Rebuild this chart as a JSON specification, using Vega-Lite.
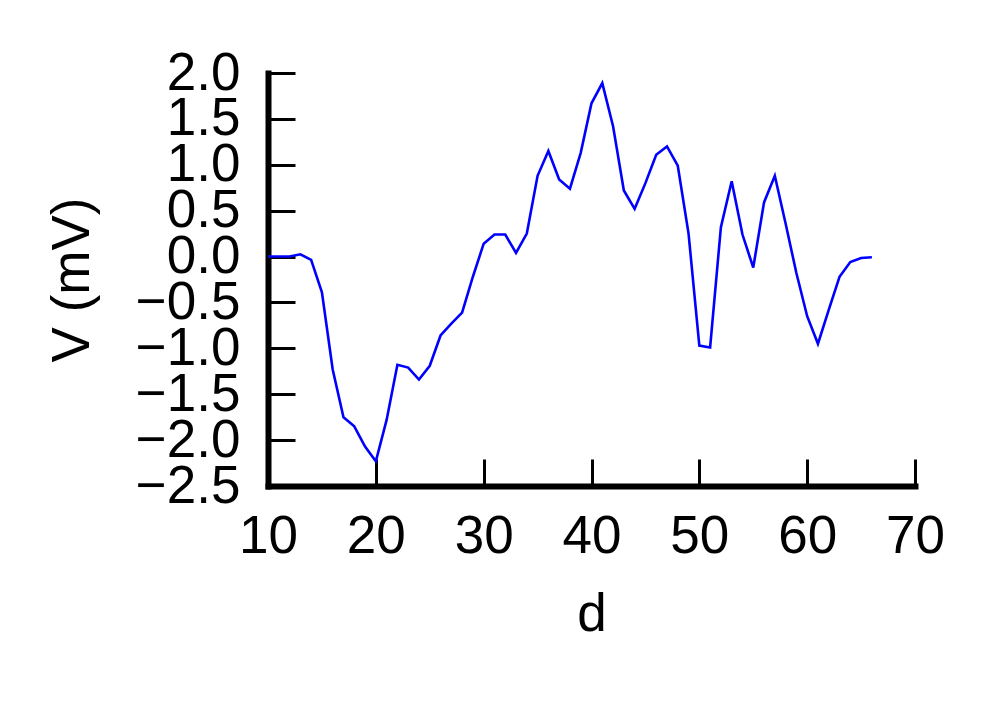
{
  "$schema": "https://vega.github.io/schema/vega-lite/v6.json",
  "autosize": "none",
  "width": 647,
  "height": 413,
  "padding": {"left": 268, "top": 73, "right": 80, "bottom": 216},
  "background": "white",
  "config": {
    "view": {"stroke": null},
    "font": "Liberation Sans",
    "axis": {
      "labelFont": "Liberation Sans",
      "titleFont": "Liberation Sans",
      "labelFontSize": 53,
      "titleFontSize": 53,
      "titleFontWeight": "normal",
      "labelColor": "black",
      "titleColor": "black",
      "domainColor": "black",
      "domainWidth": 6,
      "domainCap": "square",
      "tickColor": "black",
      "tickWidth": 3,
      "tickSize": -27,
      "grid": false,
      "zindex": 1,
      "labelOverlap": false,
      "labelFlush": false
    }
  },
  "data": {
    "values": [
      {"d": 10, "v": 0.0},
      {"d": 11, "v": 0.0},
      {"d": 12, "v": 0.0},
      {"d": 13, "v": 0.025},
      {"d": 14, "v": -0.036},
      {"d": 15, "v": -0.39},
      {"d": 16, "v": -1.23},
      {"d": 17, "v": -1.75},
      {"d": 18, "v": -1.85},
      {"d": 19, "v": -2.07},
      {"d": 20, "v": -2.23},
      {"d": 21, "v": -1.78},
      {"d": 22, "v": -1.18},
      {"d": 23, "v": -1.21},
      {"d": 24, "v": -1.34},
      {"d": 25, "v": -1.19},
      {"d": 26, "v": -0.86},
      {"d": 27, "v": -0.73},
      {"d": 28, "v": -0.61},
      {"d": 29, "v": -0.22},
      {"d": 30, "v": 0.14},
      {"d": 31, "v": 0.24},
      {"d": 32, "v": 0.24},
      {"d": 33, "v": 0.04},
      {"d": 34, "v": 0.25},
      {"d": 35, "v": 0.88},
      {"d": 36, "v": 1.15},
      {"d": 37, "v": 0.84},
      {"d": 38, "v": 0.74},
      {"d": 39, "v": 1.13},
      {"d": 40, "v": 1.67},
      {"d": 41, "v": 1.89},
      {"d": 42, "v": 1.42},
      {"d": 43, "v": 0.72},
      {"d": 44, "v": 0.52},
      {"d": 45, "v": 0.8},
      {"d": 46, "v": 1.11},
      {"d": 47, "v": 1.2},
      {"d": 48, "v": 0.99},
      {"d": 49, "v": 0.25},
      {"d": 50, "v": -0.97},
      {"d": 51, "v": -0.99},
      {"d": 52, "v": 0.32},
      {"d": 53, "v": 0.82},
      {"d": 54, "v": 0.24},
      {"d": 55, "v": -0.12},
      {"d": 56, "v": 0.59},
      {"d": 57, "v": 0.88},
      {"d": 58, "v": 0.36},
      {"d": 59, "v": -0.18},
      {"d": 60, "v": -0.65},
      {"d": 61, "v": -0.95},
      {"d": 62, "v": -0.58},
      {"d": 63, "v": -0.22},
      {"d": 64, "v": -0.06},
      {"d": 65, "v": -0.015},
      {"d": 66, "v": -0.007}
    ]
  },
  "mark": {"type": "line", "color": "#0000ff", "strokeWidth": 2.6, "clip": false},
  "encoding": {
    "x": {
      "field": "d",
      "type": "quantitative",
      "scale": {"domain": [10, 70], "nice": false, "zero": false},
      "axis": {
        "title": "d",
        "values": [10, 20, 30, 40, 50, 60, 70],
        "format": "d",
        "labelPadding": 51,
        "titlePadding": 25
      }
    },
    "y": {
      "field": "v",
      "type": "quantitative",
      "scale": {"domain": [-2.5, 2.0], "nice": false, "zero": false},
      "axis": {
        "title": "V (mV)",
        "values": [-2.5, -2.0, -1.5, -1.0, -0.5, 0.0, 0.5, 1.0, 1.5, 2.0],
        "format": ".1f",
        "labelPadding": 55,
        "titlePadding": 36
      }
    }
  }
}
